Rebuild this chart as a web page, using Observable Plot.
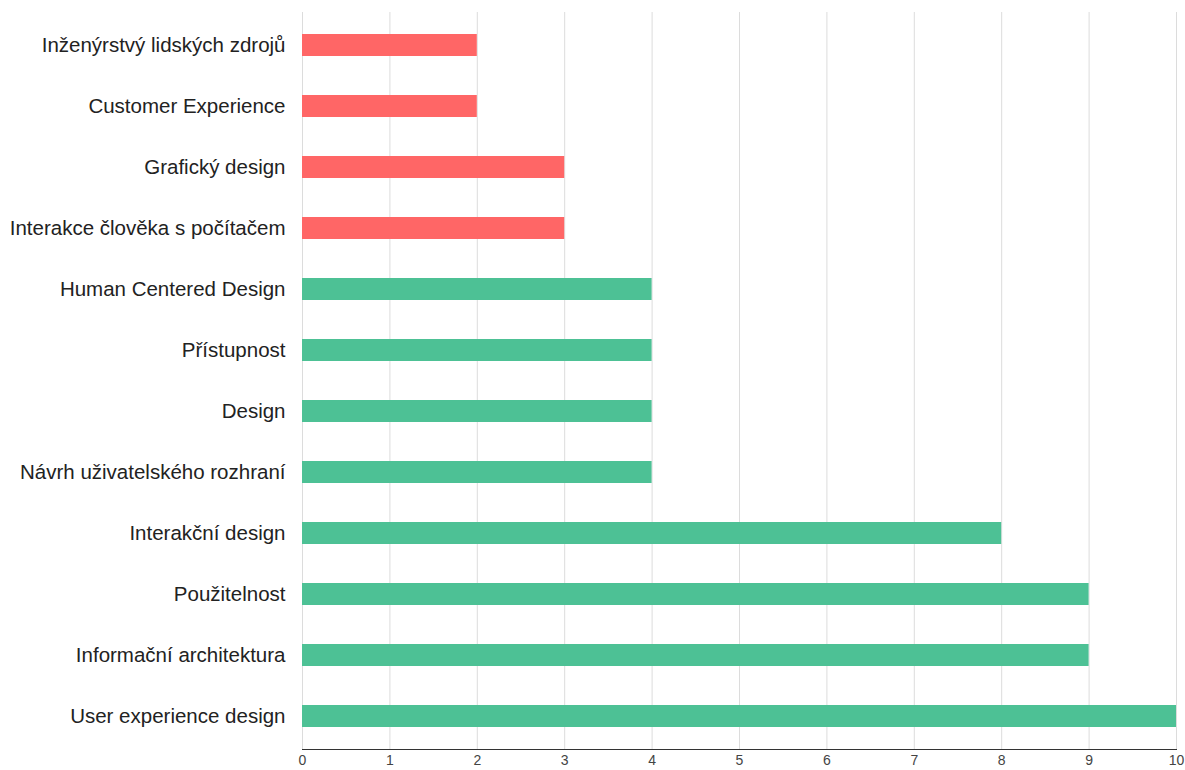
<!DOCTYPE html>
<html>
<head>
<meta charset="utf-8">
<script src="https://cdn.jsdelivr.net/npm/d3@7"></script>
<script src="https://cdn.jsdelivr.net/npm/@observablehq/plot@0.6"></script>
<style>
  html, body { margin: 0; padding: 0; background: #fff; }
  g[aria-label="x-axis tick label"], g[aria-label="x-axis tick label"] text { font-size: 14px; }
</style>
</head>
<body>
<div id="chart"></div>
<script>
const categories = [
  "Inženýrstvý lidských zdrojů",
  "Customer Experience",
  "Grafický design",
  "Interakce člověka s počítačem",
  "Human Centered Design",
  "Přístupnost",
  "Design",
  "Návrh uživatelského rozhraní",
  "Interakční design",
  "Použitelnost",
  "Informační architektura",
  "User experience design"
];
const values = [2, 2, 3, 3, 4, 4, 4, 4, 8, 9, 9, 10];
const groups = ["low", "low", "low", "low", "high", "high", "high", "high", "high", "high", "high", "high"];
const xTicks = [0, 1, 2, 3, 4, 5, 6, 7, 8, 9, 10];

const data = categories.map((c, i) => ({category: c, value: values[i], group: groups[i]}));

const chart = Plot.plot({
  width: 1185,
  height: 770,
  marginLeft: 302,
  marginRight: 9,
  marginTop: 12,
  marginBottom: 21,
  style: {fontFamily: "'Liberation Sans', Arial, Helvetica, sans-serif", fontSize: "14px", background: "#fff"},
  x: {domain: [0, 10], ticks: xTicks, label: null},
  y: {domain: categories, label: null, paddingInner: 0.64, paddingOuter: 0.3},
  color: {domain: ["low", "high"], range: ["#ff6666", "#4dc195"]},
  marks: [
    Plot.gridX(xTicks, {stroke: "#dcdcdc", strokeOpacity: 1, strokeWidth: 1}),
    Plot.barX(data, {x: "value", y: "category", fill: "group"}),
    Plot.frame({anchor: "bottom", stroke: "#333"}),
    Plot.axisX({ticks: xTicks, tickSize: 0, tickPadding: 6, fontSize: 14, fill: "#444", label: null}),
    Plot.axisY({tickSize: 0, tickPadding: 17, fontSize: 20.5, fill: "#222", label: null})
  ]
});
document.getElementById("chart").appendChild(chart);
</script>
</body>
</html>
